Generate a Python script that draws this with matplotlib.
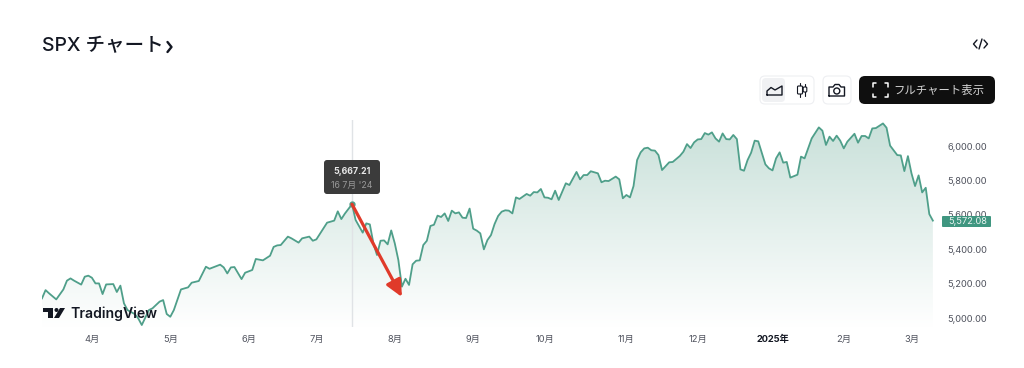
"""SPX chart card, TradingView widget style, one year of closes up to March 2025."""

import matplotlib

matplotlib.use("Agg")
import matplotlib.pyplot as plt
import numpy as np
from matplotlib.colors import LinearSegmentedColormap
from matplotlib.patches import Circle, FancyBboxPatch, Polygon

plt.rcParams["font.family"] = ["Inter", "Noto Sans CJK JP", "DejaVu Sans"]

# trading session index (0 = first session on the chart) and close
SESSIONS = [
    0, 1, 2, 4, 6, 7, 8, 9, 11, 12, 13, 14, 15, 16, 17, 18, 20, 21, 22, 23, 24, 26, 27, 28,
    30, 31, 33, 34, 35, 36, 37, 39, 41, 42, 44, 46, 47, 48, 50, 51, 52, 53, 54, 56, 57, 59,
    60, 62, 64, 65, 66, 67, 69, 70, 72, 73, 75, 76, 77, 80, 82, 83, 84, 85, 87,
    88, 90, 91, 92, 93, 94, 95, 96, 97, 98, 99, 100, 101, 102, 103, 104, 105, 106, 107, 108,
    109, 110, 111, 112, 113, 114, 115, 116, 117, 118, 119, 120, 121, 122, 123, 124, 125, 126,
    127, 128, 129, 130, 131, 132, 133, 134, 136, 137, 138, 139, 140, 141, 142, 143, 144, 145,
    147, 148, 150, 151, 152, 153, 154, 156, 157, 158, 159, 161, 162, 163, 164, 165, 166, 167,
    168, 169, 170, 171, 172, 173, 174, 176, 177, 179, 180, 181, 182, 183, 184, 185, 186, 187,
    188, 189, 190, 191, 192, 193, 194, 195, 196, 197, 198, 199, 200, 201, 203, 204, 205, 206,
    207, 208, 209, 210, 212, 213, 214, 215, 216, 218, 219, 220, 221, 222, 223, 224, 225, 226,
    228, 229, 230, 231, 232, 233, 234, 236, 237, 238, 240, 241, 242, 243, 244, 245, 246, 247,
    248, 249, 250,
]
CLOSES = [
    5120, 5168, 5149, 5114, 5172, 5223, 5236, 5223, 5200, 5246, 5252, 5240, 5207, 5207, 5145,
    5201, 5203, 5157, 5194, 5091, 5052, 5029, 5004, 4965, 5052, 5062, 5101, 5110, 5029, 5013,
    5052, 5172, 5184, 5211, 5221, 5304, 5292, 5300, 5316, 5300, 5265, 5300, 5302, 5232, 5269,
    5285, 5349, 5341, 5368, 5419, 5428, 5430, 5479, 5469, 5444, 5469, 5479, 5455, 5463, 5560,
    5572, 5626, 5581, 5613, 5667.21,
    5576, 5502, 5556, 5550, 5440, 5372, 5455, 5457, 5434, 5515, 5440, 5343, 5188, 5234, 5198,
    5318, 5339, 5341, 5430, 5455, 5541, 5548, 5601, 5593, 5614, 5570, 5630, 5614, 5620, 5589,
    5587, 5642, 5525, 5514, 5498, 5405, 5459, 5488, 5552, 5599, 5624, 5632, 5630, 5614, 5707,
    5698, 5727, 5717, 5738, 5736, 5756, 5707, 5705, 5696, 5746, 5692, 5789, 5779, 5855, 5812,
    5837, 5837, 5859, 5847, 5795, 5804, 5802, 5828, 5812, 5702, 5721, 5707, 5773, 5924, 5969,
    5992, 5996, 5981, 5979, 5953, 5866, 5911, 5913, 5948, 5973, 6017, 5994, 6027, 6044, 6046,
    6081, 6072, 6085, 6050, 6031, 6079, 6046, 6044, 6070, 6046, 5870, 5862, 5924, 5967, 6037,
    6033, 5899, 5876, 5864, 5934, 5969, 5909, 5913, 5822, 5839, 5944, 5934, 5992, 6050, 6114,
    6095, 6012, 6060, 6035, 6066, 6037, 5992, 6031, 6077, 6025, 6064, 6064, 6050, 6108, 6110,
    6137, 6112, 6008, 5953, 5951, 5860, 5947, 5847, 5773, 5835, 5736, 5763, 5610, 5572.08,
]

MONTH_SESSIONS = [14, 36, 58, 77, 99, 121, 141, 164, 184, 205, 225, 244]
MONTH_LABELS = ["4月", "5月", "6月", "7月", "8月", "9月", "10月", "11月", "12月", "2025年", "2月", "3月"]
PRICE_TICKS = [5000, 5200, 5400, 5600, 5800, 6000]

PEAK_SESSION = 87
PEAK_CLOSE = 5667.21
PEAK_DATE = "16 7月 '24"
ARROW_END_SESSION = 101
ARROW_END_CLOSE = 5128
LAST_CLOSE = 5572.08

LINE = "#4f9f8a"
TAG = "#3f9680"
LABEL = "#50535e"
W, H = 1024, 368

fig = plt.figure(figsize=(W / 100, H / 100), dpi=100, facecolor="white")

# plot area, placed in pixels
ax = fig.add_axes([42 / W, 1 - 327 / H, 893 / W, 207 / H])
ax.set_axis_off()

days = np.array(SESSIONS)
closes = np.array(CLOSES)
xlim = (0, 250.6)
ylim = (4953.5, 6157)

fade = LinearSegmentedColormap.from_list("fade", ["#ffffff", "#c8e0d9"])
grad = ax.imshow(
    np.linspace(1, 0, 256).reshape(-1, 1),
    extent=(*xlim, *ylim),
    aspect="auto",
    cmap=fade,
    vmin=0,
    vmax=1,
    zorder=1,
)
area = ax.fill_between(days, closes, ylim[0], facecolor="none", edgecolor="none")
grad.set_clip_path(area.get_paths()[0], ax.transData)

ax.plot(days, closes, color=LINE, lw=1.3, solid_joinstyle="round", zorder=3)
ax.plot([PEAK_SESSION, PEAK_SESSION], ylim, color="#e0e3e6", lw=1.0, zorder=2)
ax.plot([PEAK_SESSION], [PEAK_CLOSE], "o", ms=3.5, color=LINE, zorder=4)
ax.annotate(
    "",
    xy=(ARROW_END_SESSION, ARROW_END_CLOSE),
    xytext=(PEAK_SESSION, PEAK_CLOSE),
    arrowprops=dict(
        arrowstyle="-|>,head_length=1.0,head_width=0.48",
        color="#e03a2a",
        lw=2.3,
        shrinkA=0,
        shrinkB=0,
    ),
    zorder=5,
)
ax.set_xlim(*xlim)
ax.set_ylim(*ylim)

# tick labels follow the data scales
for s, label in zip(MONTH_SESSIONS, MONTH_LABELS):
    ax.annotate(
        label,
        (s, 0),
        xycoords=("data", "axes fraction"),
        xytext=(0, -12),
        textcoords="offset pixels",
        ha="center",
        va="center",
        fontsize=6.7,
        color="#131722" if label == "2025年" else LABEL,
        fontweight="bold" if label == "2025年" else "normal",
    )
for p in PRICE_TICKS:
    ax.annotate(
        f"{p:,.2f}",
        (1, p),
        xycoords=("axes fraction", "data"),
        xytext=(52, 0),
        textcoords="offset pixels",
        ha="right",
        va="center",
        fontsize=6.7,
        color=LABEL,
        annotation_clip=False,
    )

# card furniture, in figure pixels
ui = fig.add_axes([0, 0, 1, 1], facecolor="none")
ui.set_xlim(0, W)
ui.set_ylim(H, 0)
ui.set_axis_off()


def box(x0, y0, x1, y1, r, fc, ec="none", lw=0.8, z=6):
    ui.add_patch(
        FancyBboxPatch(
            (x0 + r, y0 + r),
            x1 - x0 - 2 * r,
            y1 - y0 - 2 * r,
            boxstyle=f"round,pad={r},rounding_size={r}",
            fc=fc,
            ec=ec,
            lw=lw,
            zorder=z,
        )
    )


def stroke(xs, ys, color="#131722", lw=1.0, z=7):
    ui.plot(xs, ys, color=color, lw=lw, solid_capstyle="round", solid_joinstyle="round", zorder=z)


ui.text(42, 46, "SPX チャート", fontsize=14, fontweight="medium", color="#131722", va="center")
stroke([167.5, 171.5, 167.5], [42, 47, 52], lw=1.7)

# embed icon
stroke([977, 973.5, 977], [40, 44, 48], lw=1.0)
stroke([984, 987.5, 984], [40, 44, 48], lw=1.0)
stroke([979, 982], [49, 39], lw=1.0)

# tooltip
box(324, 160, 380, 194, 3, "#3b3b3b")
ui.text(352, 171, "5,667.21", fontsize=6.3, fontweight="bold", color="#e8e8e8", ha="center", va="center", zorder=7)
ui.text(352, 185, PEAK_DATE, fontsize=6.3, color="#9a9a9a", ha="center", va="center", zorder=7)

# last price tag
box(942, 216, 991, 227, 1, TAG)
ui.text(987, 221.5, f"{LAST_CLOSE:,.2f}", fontsize=6.7, color="#e8f3f0", ha="right", va="center", zorder=7)

# chart type switch
box(760, 76, 814, 104, 5, "white", ec="#eeeff2")
box(762, 78, 785, 102, 4, "#f0f1f3", z=6.5)
stroke([767, 767, 771, 775, 782, 782, 767], [95, 91, 87.5, 90, 86, 95, 95])
stroke([800, 800], [83, 97], lw=0.8)
stroke([805, 805], [84, 96], lw=0.8)
box(797.5, 86, 802.5, 94, 1, "white", ec="#131722", z=7)
box(803.2, 87, 806.8, 92, 1, "white", ec="#131722", z=7)

# camera button
box(823, 76, 851, 104, 5, "white", ec="#eeeff2")
stroke([829, 829, 833, 835, 839, 841, 844.5, 844.5, 829], [96, 87, 87, 84.5, 84.5, 87, 87, 96, 96])
ui.add_patch(Circle((836.8, 91), 3, fc="none", ec="#131722", lw=1.0, zorder=7))

# full chart button
box(859, 76, 995, 104, 6, "#0f0f0f")
for cx, sx in ((873, 1), (888, -1)):
    stroke([cx + sx * 3, cx, cx], [83, 83, 86.5], color="white", lw=1.1)
    stroke([cx + sx * 3, cx, cx], [97, 97, 93.5], color="white", lw=1.1)
ui.text(938.5, 90.5, "フルチャート表示", fontsize=8.2, color="#d4d4d4", ha="center", va="center", zorder=7)

# TradingView mark
ui.add_patch(Polygon([(43, 308), (53, 308), (53, 318), (48, 318), (48, 312), (43, 312)], fc="#131722", zorder=7))
ui.add_patch(Circle((56.5, 310), 2, fc="#131722", zorder=7))
ui.add_patch(Polygon([(60, 308), (65, 308), (59, 318), (54, 318)], fc="#131722", zorder=7))
ui.text(70, 313.5, "TradingView", fontsize=10.1, fontweight="semibold", color="#131722", va="center", zorder=7)

fig.savefig("out.png", dpi=100, facecolor="white")
